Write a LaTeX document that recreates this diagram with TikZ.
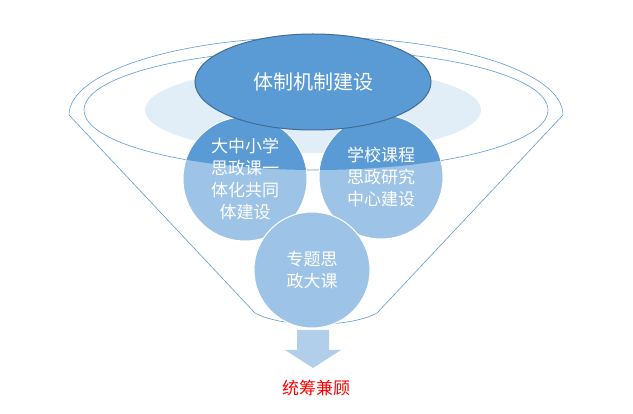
\documentclass[tikz,border=0pt]{standalone}
\usepackage{fontspec}
\usetikzlibrary{shapes.geometric}
\newfontfamily\cjk{Noto Sans CJK SC}
\begin{document}
\begin{tikzpicture}[x=1pt,y=-1pt,
  circ/.style={circle,minimum size=124pt,fill=cl,draw=white,line width=1pt,text=white,font=\cjk\fontsize{17}{22}\selectfont,align=center,inner sep=0pt},
  txt/.style={text=white,font=\cjk\fontsize{17}{22}\selectfont,align=center}]
\definecolor{dk}{HTML}{5B9BD5}
\definecolor{cl}{HTML}{9DC3E6}
\definecolor{ln}{HTML}{5B9BD5}
\useasboundingbox (0,0) rectangle (633,414);
\fill[fill=white] (0,0) rectangle (633,414);
% funnel outline
\draw[ln,line width=0.6pt] (69,115) arc[start angle=180,end angle=360,x radius=247,y radius=78]
  -- (377,313) .. controls (350,328) and (282,328) .. (255,313) -- cycle;
\draw[ln,line width=0.6pt] (316,110) ellipse[x radius=232,y radius=60];
\fill[fill=dk!18] (313,110) ellipse[x radius=168,y radius=43];
% circles
\node[circ] (l) at (245,179) {};
\node[circ] (r) at (381,177) {};
\node[circ,minimum size=116pt] (b) at (312,270) {};
\begin{scope}
\clip (316,110) ellipse[x radius=232,y radius=60];
\fill[dk] (l.center) circle[radius=61.5];
\fill[dk] (r.center) circle[radius=61.5];
\end{scope}
\node[ellipse,fill=dk,draw=dk!70!black,line width=1pt,minimum width=236pt,minimum height=96pt,text=white,font=\cjk\fontsize{20}{24}\selectfont] (e) at (313,82) {体制机制建设};
\node[txt] (lt) at (l.center) {大中小学\\思政课一\\体化共同\\体建设};
\node[txt] (rt) at (r.center) {学校课程\\思政研究\\中心建设};
\node[txt] (bt) at (b.center) {专题思\\政大课};
% arrow
\fill[fill=cl!80!white] (297,330) -- (329,330) -- (329,350) -- (341,350) -- (313,368) -- (285,350) -- (297,350) -- cycle;
\node[text=red,font=\cjk\fontsize{17}{20}\selectfont] (t) at (316,388) {统筹兼顾};
\end{tikzpicture}
\end{document}
